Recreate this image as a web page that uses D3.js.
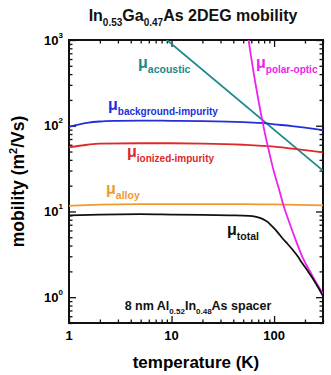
<!DOCTYPE html>
<html>
<head>
<meta charset="utf-8">
<script src="https://cdn.jsdelivr.net/npm/d3@7"></script>
<style>
  body { margin: 0; background: #fff; }
  text { font-family: "Liberation Sans", Arial, sans-serif; font-weight: bold; }
</style>
</head>
<body>
<script>
// values (temperature in K, mobility in m^2/Vs)
let bgT   = [1, 1.5, 2, 3, 5, 10, 20, 50, 80, 100, 150, 200, 300];
let bgMu  = [97, 108, 112, 114, 115, 114, 113, 110, 107, 104, 99, 95, 89];

let ionT  = [1, 1.5, 2, 5, 10, 20, 50, 100, 150, 200, 300];
let ionMu = [56, 60, 62, 62.5, 62.5, 62, 60, 57, 54, 52, 49];

let alloyT  = [1, 2, 5, 10, 50, 100, 300];
let alloyMu = [11.6, 12.0, 12.2, 12.2, 12.2, 12.1, 11.8];

let acT  = [5, 300];
let acMu = [1800, 30];

let poT  = [55, 60, 70, 80, 90, 100, 112, 123, 140, 162, 190, 219, 250, 300];
let poMu = [1220, 610, 205, 90, 48, 28.6, 18, 12, 7.6, 4.7, 2.9, 2.1, 1.57, 1.1];

let totT  = [1, 2, 5, 10, 20, 37, 57, 67, 77, 87, 96, 108, 120, 135, 151, 170, 188, 210, 235, 265, 300];
let totMu = [9.0, 9.2, 9.3, 9.2, 9.1, 9.0, 8.9, 8.65, 8.2, 7.5, 6.7, 5.75, 4.9, 4.2, 3.6, 3.0, 2.5, 2.07, 1.7, 1.34, 1.03];

let xMajor = [1, 10, 100];
let xLabels = ["1", "10", "100"];
let yMajor = [1, 10, 100, 1000];
let yExp = ["0", "1", "2", "3"];

let width = 331, height = 375;
let margin = {top: 40, right: 8, bottom: 52, left: 69};

let svg = d3.select('body').append('svg')
    .attr('width', width)
    .attr('height', height);

let xScale = d3.scaleLog().domain([1, 300]).range([margin.left, width - margin.right]);
let yScale = d3.scaleLog().domain([0.5, 1000]).range([height - margin.bottom, margin.top]);

let x0 = xScale.range()[0], x1 = xScale.range()[1];
let y0 = yScale.range()[0], y1 = yScale.range()[1];

// minor + major tick values
let xTicks = [];
[1, 10, 100].forEach(function(d) { for (let k = 1; k < 10; k++) if (d * k <= 300) xTicks.push(d * k); });
let yTicks = [];
[0.1, 1, 10, 100].forEach(function(d) { for (let k = 1; k < 10; k++) if (d * k >= 0.5) yTicks.push(d * k); });
yTicks.push(1000);

function isMajor(v) { return Math.abs(Math.log10(v) - Math.round(Math.log10(v))) < 1e-6; }

// ticks on all four sides, pointing in
function tickAxis(axis, translate, sign, vertical) {
  let g = svg.append('g').attr('transform', translate)
      .call(axis.tickFormat('').tickSizeOuter(0));
  g.select('.domain').remove();
  g.selectAll('.tick line')
      .attr(vertical ? 'x2' : 'y2', function(d) { return sign * (isMajor(d) ? 7 : 3.5); })
      .attr('stroke', '#111')
      .attr('stroke-width', 1.3);
  return g;
}
tickAxis(d3.axisBottom(xScale).tickValues(xTicks), 'translate(0,' + y0 + ')', -1, false);
tickAxis(d3.axisTop(xScale).tickValues(xTicks), 'translate(0,' + y1 + ')', 1, false);
tickAxis(d3.axisLeft(yScale).tickValues(yTicks), 'translate(' + x0 + ',0)', 1, true);
tickAxis(d3.axisRight(yScale).tickValues(yTicks), 'translate(' + x1 + ',0)', -1, true);

// frame
svg.append('rect')
    .attr('x', x0).attr('y', y1)
    .attr('width', x1 - x0).attr('height', y0 - y1)
    .attr('fill', 'none').attr('stroke', '#111').attr('stroke-width', 2);

// tick labels
svg.selectAll('.xlab').data(xMajor).enter().append('text')
    .attr('x', function(d) { return xScale(d); })
    .attr('y', y0 + 17)
    .attr('text-anchor', 'middle')
    .attr('font-size', 13)
    .text(function(d, i) { return xLabels[i]; });

let ylab = svg.selectAll('.ylab').data(yMajor).enter().append('text')
    .attr('x', x0 - 6)
    .attr('y', function(d) { return yScale(d) + 4.5; })
    .attr('text-anchor', 'end')
    .attr('font-size', 13);
ylab.append('tspan').text('10');
ylab.append('tspan').attr('dy', -7).attr('font-size', 8).text(function(d, i) { return yExp[i]; });

// axis titles
let yt = svg.append('text')
    .attr('transform', 'translate(24,' + ((y0 + y1) / 2) + ') rotate(-90)')
    .attr('text-anchor', 'middle')
    .attr('font-size', 17.5);
yt.append('tspan').text('mobility (m');
yt.append('tspan').attr('dy', -7).attr('font-size', 11).text('2');
yt.append('tspan').attr('dy', 7).text('/Vs)');

svg.append('text')
    .attr('x', (x0 + x1) / 2).attr('y', 368)
    .attr('text-anchor', 'middle')
    .attr('font-size', 17)
    .text('temperature (K)');

// text with subscripts
function subText(x, y, parts, size, subSize, color, anchor) {
  let t = svg.append('text').attr('x', x).attr('y', y)
      .attr('font-size', size).attr('fill', color).attr('text-anchor', anchor || 'start');
  let low = false;
  parts.forEach(function(p) {
    let s = t.append('tspan').text(p[0]);
    if (p[1] && !low) { s.attr('dy', subSize * 0.45).attr('font-size', subSize); low = true; }
    else if (p[1]) { s.attr('font-size', subSize); }
    else if (low) { s.attr('dy', -subSize * 0.45); low = false; }
  });
  return t;
}
subText(193, 21, [['In'], ['0.53', 1], ['Ga'], ['0.47', 1], ['As 2DEG mobility']], 16, 10, '#111', 'middle');
subText(198, 310, [['8 nm Al'], ['0.52', 1], ['In'], ['0.48', 1], ['As spacer']], 12.5, 8, '#111', 'middle');

// curves
svg.append('clipPath').attr('id', 'plot')
  .append('rect').attr('x', x0).attr('y', y1).attr('width', x1 - x0).attr('height', y0 - y1);

let line = d3.line()
    .x(function(d) { return xScale(d[0]); })
    .y(function(d) { return yScale(d[1]); })
    .curve(d3.curveMonotoneX);

let series = [
  {T: acT, mu: acMu, color: '#1b8a8a'},
  {T: bgT, mu: bgMu, color: '#2230d8'},
  {T: ionT, mu: ionMu, color: '#e02828'},
  {T: alloyT, mu: alloyMu, color: '#f29a2e'},
  {T: poT, mu: poMu, color: '#ee22ee'},
  {T: totT, mu: totMu, color: '#111111'}
];

let curves = svg.append('g').attr('clip-path', 'url(#plot)');
series.forEach(function(s) {
  curves.append('path')
      .datum(s.T.map(function(t, i) { return [t, s.mu[i]]; }))
      .attr('d', line)
      .attr('fill', 'none')
      .attr('stroke', s.color)
      .attr('stroke-width', 1.8);
});

// curve labels
subText(138, 68, [['\u03bc'], ['acoustic', 1]], 16, 10.5, '#1b8a8a');
subText(256, 68, [['\u03bc'], ['polar-optic', 1]], 16, 10, '#ee22ee');
subText(108, 110, [['\u03bc'], ['background-impurity', 1]], 16, 10, '#2230d8');
subText(127, 157, [['\u03bc'], ['ionized-impurity', 1]], 16, 10, '#e02828');
subText(106, 194, [['\u03bc'], ['alloy', 1]], 16, 10.5, '#f29a2e');
subText(227, 235, [['\u03bc'], ['total', 1]], 16, 10.5, '#111');
</script>
</body>
</html>
